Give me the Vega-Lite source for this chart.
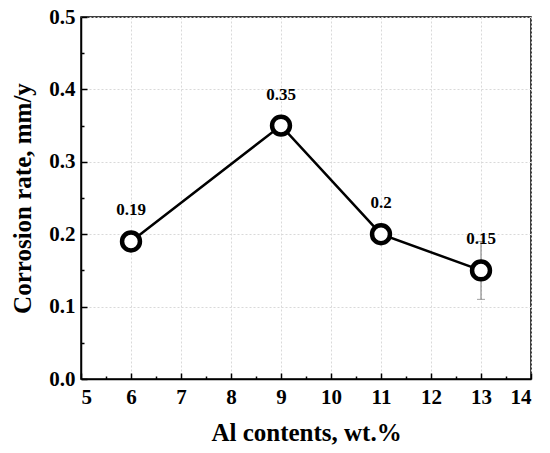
{
  "$schema": "https://vega.github.io/schema/vega-lite/v6.json",
  "width": 450,
  "height": 362,
  "autosize": "none",
  "padding": {"left": 81, "top": 17, "right": 19, "bottom": 74},
  "background": "white",
  "config": {
    "view": {"stroke": "black", "strokeWidth": 1.5},
    "font": "Liberation Serif",
    "axis": {
      "labelFont": "Liberation Serif",
      "titleFont": "Liberation Serif",
      "labelFontWeight": "bold",
      "titleFontWeight": "bold",
      "labelColor": "black",
      "titleColor": "black",
      "domainColor": "black",
      "tickColor": "black",
      "domainWidth": 1.5,
      "tickWidth": 1.5,
      "gridColor": "#d9d9d9",
      "gridDash": [2, 2],
      "gridWidth": 1
    }
  },
  "data": {
    "values": [
      {"al": 6, "rate": 0.19, "lo": 0.19, "hi": 0.19},
      {"al": 9, "rate": 0.35, "lo": 0.35, "hi": 0.35},
      {"al": 11, "rate": 0.2, "lo": 0.2, "hi": 0.2},
      {"al": 13, "rate": 0.15, "lo": 0.11, "hi": 0.19}
    ]
  },
  "layer": [
    {
      "mark": {"type": "line", "color": "black", "strokeWidth": 2.5},
      "encoding": {
        "x": {
          "field": "al", "type": "quantitative",
          "scale": {"domain": [5, 14], "nice": false},
          "axis": {
            "title": "Al contents, wt.%", "titleFontSize": 25, "titlePadding": 13,
            "values": [5, 6, 7, 8, 9, 10, 11, 12, 13, 14],
            "labelFont": "Liberation Serif", "labelFontWeight": "bold",
            "labelFontSize": 21, "labelPadding": 13, "tickSize": -6,
            "grid": true, "orient": "bottom"
          }
        },
        "y": {
          "field": "rate", "type": "quantitative",
          "scale": {"domain": [0, 0.5], "nice": false},
          "axis": {
            "title": "Corrosion rate, mm/y", "titleFontSize": 25, "titlePadding": 13,
            "values": [0, 0.1, 0.2, 0.3, 0.4, 0.5], "format": ".1f",
            "labelFont": "Liberation Serif", "labelFontWeight": "bold",
            "labelFontSize": 21, "labelPadding": 12, "tickSize": -6,
            "grid": true, "orient": "left"
          }
        }
      }
    },
    {
      "mark": {"type": "rule", "color": "#777777", "strokeWidth": 1},
      "encoding": {
        "x": {"field": "al", "type": "quantitative", "axis": null},
        "y": {"field": "lo", "type": "quantitative", "axis": null},
        "y2": {"field": "hi"}
      }
    },
    {
      "mark": {"type": "tick", "orient": "horizontal", "color": "#777777", "thickness": 1, "size": 8},
      "encoding": {
        "x": {"field": "al", "type": "quantitative", "axis": null},
        "y": {"field": "lo", "type": "quantitative", "axis": null}
      }
    },
    {
      "mark": {"type": "tick", "orient": "horizontal", "color": "#777777", "thickness": 1, "size": 8},
      "encoding": {
        "x": {"field": "al", "type": "quantitative", "axis": null},
        "y": {"field": "hi", "type": "quantitative", "axis": null}
      }
    },
    {
      "mark": {"type": "point", "shape": "circle", "filled": false, "fill": "white", "fillOpacity": 1, "stroke": "black", "strokeWidth": 4.5, "size": 320, "opacity": 1},
      "encoding": {
        "x": {"field": "al", "type": "quantitative", "axis": null},
        "y": {"field": "rate", "type": "quantitative", "axis": null}
      }
    },
    {
      "mark": {"type": "text", "dy": -31, "fontSize": 17, "fontWeight": "bold", "font": "Liberation Serif", "color": "black"},
      "encoding": {
        "x": {"field": "al", "type": "quantitative", "axis": null},
        "y": {"field": "rate", "type": "quantitative", "axis": null},
        "text": {"field": "rate", "type": "quantitative"}
      }
    },
    {
      "mark": {"type": "point", "opacity": 0},
      "encoding": {
        "x": {
          "field": "al", "type": "quantitative",
          "axis": {
            "orient": "bottom", "title": null, "labels": false, "grid": false, "domain": false,
            "values": [5.5, 6.5, 7.5, 8.5, 9.5, 10.5, 11.5, 12.5, 13.5], "tickSize": -3
          }
        },
        "y": {
          "field": "rate", "type": "quantitative",
          "axis": {
            "orient": "left", "title": null, "labels": false, "grid": false, "domain": false,
            "values": [0.05, 0.15, 0.25, 0.35, 0.45], "tickSize": -3
          }
        }
      }
    }
  ],
  "resolve": {"axis": {"x": "independent", "y": "independent"}}
}
